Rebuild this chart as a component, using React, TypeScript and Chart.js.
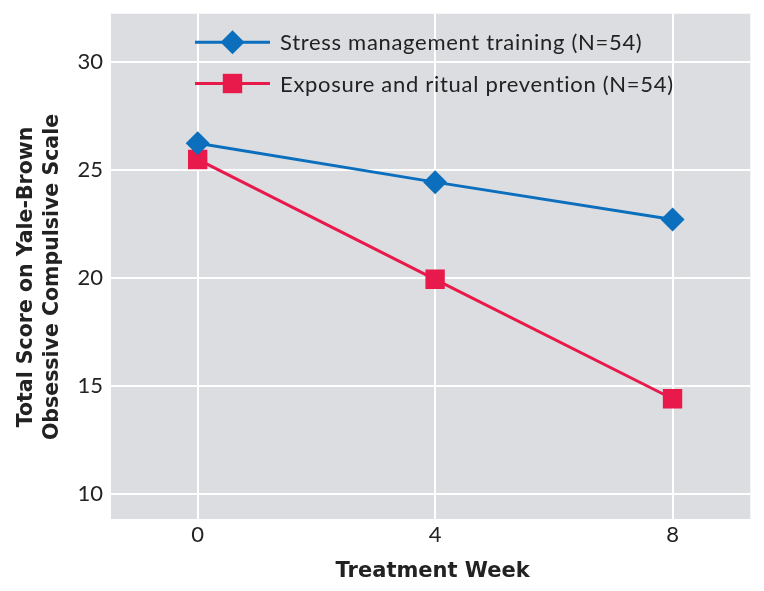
import { useEffect, useRef } from "react";
import { Chart, registerables } from "chart.js";

Chart.register(...registerables);

const weeks = [0, 4, 8];
const stressScores = [26.25, 24.45, 22.72];
const exposureScores = [25.5, 19.95, 14.42];
const yTickValues = [10, 15, 20, 25, 30];
const xTickValues = [0, 4, 8];
const seriesLabels = ["Stress management training (N=54)", "Exposure and ritual prevention (N=54)"];
const xTitle = "Treatment Week";
const yTitleLines = ["Total Score on Yale-Brown", "Obsessive Compulsive Scale"];

const FONT = "Lato";
const TITLE_FONT = '"DejaVu Sans"';
const BLUE = "#0b6fbd";
const RED = "#e8194b";
const TEXT = "#222222";

function drawText(
  ctx: any,
  text: string,
  cx: number,
  baseline: number,
  font: string,
  spacing: number,
  align: "center" | "left"
) {
  ctx.save();
  ctx.font = font;
  ctx.fillStyle = TEXT;
  ctx.textBaseline = "alphabetic";
  ctx.textAlign = "left";
  const hasLS = "letterSpacing" in ctx;
  if (hasLS) ctx.letterSpacing = `${spacing}px`;
  let w = ctx.measureText(text).width;
  if (hasLS) w -= spacing;
  const x = align === "center" ? cx - w / 2 : cx;
  ctx.fillText(text, x, baseline);
  ctx.restore();
}

const bgPlugin = {
  id: "plotBg",
  beforeDraw(chart: any) {
    const { ctx, chartArea: a } = chart;
    ctx.save();
    ctx.fillStyle = "#dcdde0";
    ctx.fillRect(a.left, a.top, a.right - a.left, a.bottom - a.top);
    ctx.restore();
  },
};

function drawMarker(ctx: CanvasRenderingContext2D, style: string, x: number, y: number, color: string) {
  ctx.save();
  ctx.fillStyle = color;
  ctx.beginPath();
  if (style === "rectRot") {
    const r = 12;
    ctx.moveTo(x - r, y);
    ctx.lineTo(x, y - r);
    ctx.lineTo(x + r, y);
    ctx.lineTo(x, y + r);
  } else {
    const s = 9.7;
    ctx.rect(x - s, y - s, 2 * s, 2 * s);
  }
  ctx.closePath();
  ctx.fill();
  ctx.restore();
}

const legendPlugin = {
  id: "insideLegend",
  afterDraw(chart: any) {
    const { ctx, chartArea: a } = chart;
    chart.data.datasets.forEach((ds: any, i: number) => {
      const y = a.top + 28.5 + i * 41.3;
      const x0 = a.left + 84;
      const x1 = a.left + 159;
      ctx.save();
      ctx.strokeStyle = ds.borderColor;
      ctx.lineWidth = 3;
      ctx.beginPath();
      ctx.moveTo(x0, y);
      ctx.lineTo(x1, y);
      ctx.stroke();
      drawMarker(ctx, ds.pointStyle, (x0 + x1) / 2, y, ds.backgroundColor);
      ctx.restore();
      drawText(ctx, ds.label, x1 + 10, y + 8, `22px ${FONT}`, 0.7, "left");
    });
  },
};

const titlesPlugin = {
  id: "axisTitles",
  afterDraw(chart: any) {
    const { ctx, chartArea: a } = chart;
    drawText(ctx, xTitle, (a.left + a.right) / 2 + 2, 577, `bold 21px ${TITLE_FONT}`, 0, "center");
    yTitleLines.forEach((line, i) => {
      ctx.save();
      ctx.translate(32 + i * 26, 277);
      ctx.rotate(-Math.PI / 2);
      drawText(ctx, line, 0, 0, `bold 20.5px ${TITLE_FONT}`, 0, "center");
      ctx.restore();
    });
  },
};

export default function App() {
  const ref = useRef<HTMLCanvasElement | null>(null);
  useEffect(() => {
    if (!ref.current) return;
    const chart = new Chart(ref.current, {
      type: "line",
      data: {
        datasets: [
          {
            label: seriesLabels[0],
            data: weeks.map((w, i) => ({ x: w, y: stressScores[i] })),
            borderColor: BLUE,
            backgroundColor: BLUE,
            borderWidth: 3,
            pointStyle: "rectRot",
            pointRadius: 12,
            pointHoverRadius: 12,
            pointBorderWidth: 0,
          },
          {
            label: seriesLabels[1],
            data: weeks.map((w, i) => ({ x: w, y: exposureScores[i] })),
            borderColor: RED,
            backgroundColor: RED,
            borderWidth: 3,
            pointStyle: "rect",
            pointRadius: 13.7,
            pointHoverRadius: 13.7,
            pointBorderWidth: 0,
          },
        ],
      },
      options: {
        animation: false,
        responsive: true,
        maintainAspectRatio: false,
        layout: { padding: { top: 13, right: 13, left: 0, bottom: 0 } },
        plugins: {
          legend: { display: false },
          tooltip: { enabled: false },
        },
        scales: {
          x: {
            type: "linear",
            min: -1.46,
            max: 9.31,
            afterBuildTicks: (s: any) => {
              s.ticks = xTickValues.map((v) => ({ value: v }));
            },
            afterFit: (s: any) => {
              s.height = 72;
              s.paddingLeft = 0;
              s.paddingRight = 0;
            },
            grid: { color: "#ffffff", lineWidth: 2, drawTicks: false },
            border: { display: false },
            ticks: {
              padding: 3,
              color: TEXT,
              font: { family: FONT, size: 22 },
            },
          },
          y: {
            type: "linear",
            min: 8.85,
            max: 32.25,
            afterBuildTicks: (s: any) => {
              s.ticks = yTickValues.map((v) => ({ value: v }));
            },
            afterFit: (s: any) => {
              s.width = 111;
              s.paddingTop = 0;
              s.paddingBottom = 0;
            },
            grid: { color: "#ffffff", lineWidth: 2, drawTicks: false },
            border: { display: false },
            ticks: {
              padding: 8,
              color: TEXT,
              font: { family: FONT, size: 22 },
            },
          },
        },
      },
      plugins: [bgPlugin, legendPlugin, titlesPlugin],
    } as any);
    return () => chart.destroy();
  }, []);
  return (
    <div style={{ position: "absolute", left: 0, top: 0, width: 764, height: 591 }}>
      <canvas ref={ref} />
    </div>
  );
}
